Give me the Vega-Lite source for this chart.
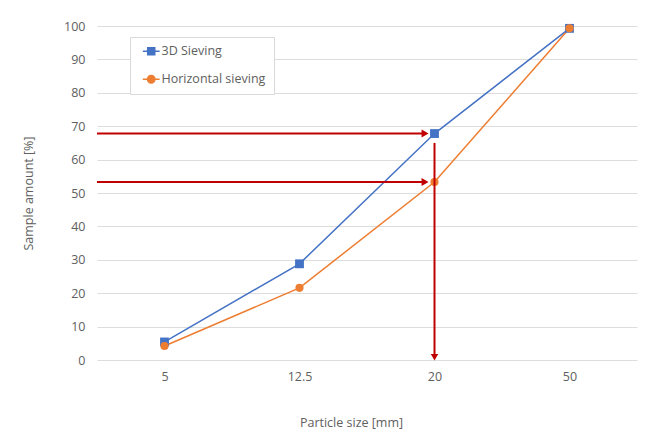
{
  "$schema": "https://vega.github.io/schema/vega-lite/v6.json",
  "width": 540,
  "height": 334,
  "autosize": "none",
  "padding": {"left": 97, "top": 26, "right": 19, "bottom": 77},
  "background": "white",
  "config": {
    "font": "Open Sans",
    "view": {"stroke": null},
    "axis": {
      "labelColor": "#606060",
      "titleColor": "#606060",
      "labelFontSize": 12.5,
      "titleFontSize": 12.5,
      "titleFontWeight": "normal",
      "domain": false,
      "ticks": false,
      "labelOverlap": false,
      "gridColor": "#DDDDDD",
      "gridWidth": 1
    },
    "axisX": {
      "tickCount": 4,
      "grid": false,
      "labelPadding": 10,
      "titlePadding": 34
    },
    "axisY": {
      "tickCount": 11,
      "labelPadding": 12,
      "titlePadding": 28
    }
  },
  "datasets": {
    "sieving": [
      {"size": "5", "idx": 0, "series": "3D Sieving", "value": 5.4},
      {"size": "12.5", "idx": 1, "series": "3D Sieving", "value": 28.8},
      {"size": "20", "idx": 2, "series": "3D Sieving", "value": 67.8},
      {"size": "50", "idx": 3, "series": "3D Sieving", "value": 99.3},
      {"size": "5", "idx": 0, "series": "Horizontal sieving", "value": 4.2},
      {"size": "12.5", "idx": 1, "series": "Horizontal sieving", "value": 21.6},
      {"size": "20", "idx": 2, "series": "Horizontal sieving", "value": 53.3},
      {"size": "50", "idx": 3, "series": "Horizontal sieving", "value": 99.3}
    ],
    "hArrows": [
      {"x": -0.5, "x2": 1.93, "y": 67.8},
      {"x": -0.5, "x2": 1.93, "y": 53.3}
    ],
    "vArrow": [
      {"x": 2, "y": 65, "y2": 0.8}
    ]
  },
  "layer": [
    {
      "data": {"name": "sieving"},
      "mark": {"type": "line", "strokeWidth": 1.5},
      "encoding": {
        "x": {
          "field": "idx",
          "type": "quantitative",
          "scale": {"domain": [-0.5, 3.5], "nice": false, "zero": false},
          "axis": {
            "values": [0, 1, 2, 3],
            "labelExpr": "['5', '12.5', '20', '50'][datum.value]",
            "title": "Particle size [mm]",
            "titleX": 254
          }
        },
        "y": {
          "field": "value",
          "type": "quantitative",
          "scale": {"domain": [0, 100], "nice": false},
          "axis": {
            "values": [0, 10, 20, 30, 40, 50, 60, 70, 80, 90, 100],
            "title": "Sample amount [%]"
          }
        },
        "color": {
          "field": "series",
          "type": "nominal",
          "scale": {"domain": ["3D Sieving", "Horizontal sieving"], "range": ["#4472C4", "#ED7D31"]},
          "legend": {
            "title": null,
            "orient": "none",
            "legendX": 33,
            "legendY": 11,
            "fillColor": "white",
            "strokeColor": "#D9D9D9",
            "padding": 8,
            "rowPadding": 14,
            "labelFontSize": 12.5,
            "labelColor": "#606060",
            "labelOffset": 11,
            "symbolSize": 110,
            "symbolStrokeWidth": 1.5,
            "encode": {
              "symbols": {
                "update": {
                  "shape": {"signal": "datum.value === '3D Sieving' ? 'M-0.27,0H2.93M0.66,-0.66H2V0.66H0.66Z' : 'M-0.27,0H2.93M0.63,0A0.7,0.7 0 1,0 2.03,0A0.7,0.7 0 1,0 0.63,0Z'"},
                  "fill": {"scale": "color", "field": "value"},
                  "stroke": {"scale": "color", "field": "value"},
                  "strokeWidth": {"value": 1.5},
                  "opacity": {"value": 1}
                }
              }
            }
          }
        }
      }
    },
    {
      "data": {"name": "sieving"},
      "transform": [{"filter": "datum.series === '3D Sieving'"}],
      "mark": {"type": "point", "shape": "square", "filled": true, "opacity": 1, "size": 78},
      "encoding": {
        "x": {"field": "idx", "type": "quantitative"},
        "y": {"field": "value", "type": "quantitative"},
        "color": {"field": "series", "type": "nominal", "legend": null}
      }
    },
    {
      "data": {"name": "sieving"},
      "transform": [{"filter": "datum.series === 'Horizontal sieving'"}],
      "mark": {"type": "point", "shape": "circle", "filled": true, "opacity": 1, "size": 66},
      "encoding": {
        "x": {"field": "idx", "type": "quantitative"},
        "y": {"field": "value", "type": "quantitative"},
        "color": {"field": "series", "type": "nominal", "legend": null}
      }
    },
    {
      "data": {"name": "hArrows"},
      "mark": {"type": "rule", "color": "#C00000", "strokeWidth": 2},
      "encoding": {
        "x": {"field": "x", "type": "quantitative"},
        "x2": {"field": "x2"},
        "y": {"field": "y", "type": "quantitative"}
      }
    },
    {
      "data": {"name": "hArrows"},
      "mark": {"type": "point", "shape": "triangle-right", "filled": true, "color": "#C00000", "opacity": 1, "size": 64},
      "encoding": {
        "x": {"field": "x2", "type": "quantitative"},
        "y": {"field": "y", "type": "quantitative"}
      }
    },
    {
      "data": {"name": "vArrow"},
      "mark": {"type": "rule", "color": "#C00000", "strokeWidth": 2},
      "encoding": {
        "x": {"field": "x", "type": "quantitative"},
        "y": {"field": "y", "type": "quantitative"},
        "y2": {"field": "y2"}
      }
    },
    {
      "data": {"name": "vArrow"},
      "mark": {"type": "point", "shape": "triangle-down", "filled": true, "color": "#C00000", "opacity": 1, "size": 56},
      "encoding": {
        "x": {"field": "x", "type": "quantitative"},
        "y": {"field": "y2", "type": "quantitative"}
      }
    }
  ]
}
